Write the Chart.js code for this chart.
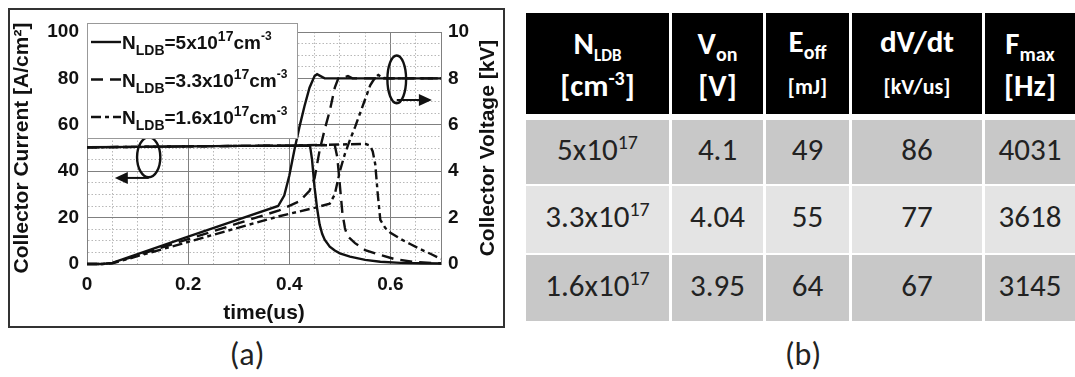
<!DOCTYPE html>
<html>
<head>
<meta charset="utf-8">
<script src="https://cdn.jsdelivr.net/npm/chart.js@4/dist/chart.umd.min.js"></script>
<style>
  html, body { margin: 0; padding: 0; background: #fff; }
  body { width: 1075px; height: 377px; position: relative; overflow: hidden; font-family: Carlito, Calibri, Lato, sans-serif; }
  #frame { position: absolute; left: 8px; top: 8px; width: 493px; height: 316px; border: 2px solid #333; }
  #frame canvas { display: block; }
  .cap { position: absolute; top: 335px; width: 80px; text-align: center; font-size: 32px; line-height: 40px; color: #222; }
  #tbl { position: absolute; left: 526px; top: 13px; border-collapse: separate; border-spacing: 0; }
  #tbl th, #tbl td { padding: 0; text-align: center; border-right: 3px solid #fff; border-bottom: 2px solid #fff; }
  #tbl th:last-child, #tbl td:last-child { border-right: none; }
  #tbl th { background: #000; color: #fff; font-weight: bold; font-size: 31px; line-height: 42px; height: 101px; border-bottom-width: 6px; }
  #tbl td { color: #222; font-size: 31px; padding-bottom: 7px; }
  #tbl tr:last-child td { border-bottom: none; }
  #tbl sub { font-size: 20px; vertical-align: -7px; line-height: 0; }
  #tbl sub.s { font-size: 17px; }
  #tbl sup { font-size: 20px; vertical-align: 11px; line-height: 0; }
  #tbl small { font-size: 22px; }
</style>
</head>
<body>
<div id="frame"><canvas id="chart" width="493" height="316"></canvas></div>
<div class="cap" style="left:207px">(a)</div>
<table id="tbl"></table>
<div class="cap" style="left:763px">(b)</div>
<script>
// ---- chart (a) data : time in us, current in A/cm2, voltage in kV ----
var densities = ['5', '3.3', '1.6'];

var tCurA = [0, 0.10, 0.20, 0.30, 0.40, 0.43, 0.441, 0.445, 0.45, 0.455, 0.46, 0.465, 0.47, 0.48, 0.49, 0.50, 0.52, 0.55, 0.58, 0.62, 0.66, 0.70];
var curA  = [50.3, 50.5, 50.7, 50.9, 51, 51, 51, 45, 33, 24, 17, 13, 10.5, 7.5, 5.8, 4.6, 3.2, 1.8, 1.0, 0.5, 0.3, 0.2];

var tCurB = [0, 0.10, 0.20, 0.30, 0.40, 0.45, 0.49, 0.495, 0.50, 0.505, 0.51, 0.515, 0.52, 0.53, 0.55, 0.58, 0.61, 0.65, 0.70];
var curB  = [50.3, 50.5, 50.7, 50.9, 51, 51.2, 51.2, 46, 34, 22, 15.5, 12, 11, 9, 6, 3.9, 2, 0.8, 0.3];

var tCurC = [0, 0.10, 0.20, 0.30, 0.40, 0.50, 0.55, 0.56, 0.565, 0.57, 0.575, 0.58, 0.59, 0.60, 0.62, 0.64, 0.66, 0.68, 0.70];
var curC  = [50.3, 50.5, 50.7, 50.9, 51, 51.5, 51.8, 51, 48.5, 43, 30, 19, 15.5, 13.5, 10.8, 8.5, 6.3, 4.3, 2.2];

var tVolA = [0, 0.03, 0.05, 0.07, 0.10, 0.20, 0.30, 0.378, 0.39, 0.40, 0.41, 0.42, 0.43, 0.44, 0.45, 0.455, 0.46, 0.47, 0.50, 0.60, 0.70];
var volA  = [0, 0, 0.05, 0.2, 0.43, 1.18, 1.92, 2.5, 2.95, 3.8, 4.9, 5.9, 6.8, 7.6, 8.1, 8.18, 8.12, 8.0, 8.0, 8.0, 8.0];

var tVolB = [0, 0.03, 0.05, 0.07, 0.10, 0.20, 0.30, 0.38, 0.42, 0.44, 0.45, 0.46, 0.47, 0.48, 0.49, 0.497, 0.51, 0.516, 0.525, 0.55, 0.70];
var volB  = [0, 0, 0.04, 0.17, 0.38, 1.07, 1.76, 2.31, 2.7, 3.15, 3.7, 4.9, 5.8, 6.6, 7.6, 8.0, 8.05, 8.1, 8.0, 8.0, 8.0];

var tVolC = [0, 0.03, 0.05, 0.07, 0.10, 0.20, 0.30, 0.38, 0.45, 0.48, 0.49, 0.50, 0.51, 0.52, 0.53, 0.54, 0.55, 0.56, 0.57, 0.576, 0.585, 0.60, 0.70];
var volC  = [0, 0, 0.03, 0.15, 0.34, 0.95, 1.57, 2.06, 2.42, 2.6, 3.0, 4.0, 4.75, 5.35, 5.9, 6.5, 7.1, 7.7, 8.05, 8.15, 8.02, 8.0, 8.0];

var xTickLabels = ['0', '0.2', '0.4', '0.6'];

// ---- table (b) data ----
var headers = ['N<sub class="s">LDB</sub><br>[cm<sup>-3</sup>]', 'V<sub>on</sub><br>[V]', 'E<sub>off</sub><br><small>[mJ]</small>',
               'dV/dt<br><small>[kV/us]</small>', 'F<sub>max</sub><br>[Hz]'];
var vOn  = ['4.1', '4.04', '3.95'];
var eOff = [49, 55, 64];
var dvdt = [86, 77, 67];
var fMax = [4031, 3618, 3145];

// build table
var colW = [143, 91, 83, 130, 90];
var rowH = [64, 67, 66];
var rowBg = ['#c8c8c8', '#e4e4e4', '#c8c8c8'];
var html = '<tr>';
headers.forEach(function(h, i) { html += '<th style="width:' + colW[i] + 'px">' + h + '</th>'; });
html += '</tr>';
for (var r = 0; r < densities.length; r++) {
  var cells = [densities[r] + 'x10<sup>17</sup>', vOn[r], eOff[r], dvdt[r], fMax[r]];
  html += '<tr>';
  cells.forEach(function(c) {
    html += '<td style="height:' + (rowH[r] - 7) + 'px;background:' + rowBg[r] + '">' + c + '</td>';
  });
  html += '</tr>';
}
document.getElementById('tbl').innerHTML = html;

// ---- chart ----
var FONT = '"Liberation Sans", Arial, sans-serif';
Chart.defaults.font.family = FONT;
Chart.defaults.font.weight = 'bold';
Chart.defaults.color = '#111';

var dashB = [12, 7];
var dashC = [10, 4, 4, 4];

function pts(ts, vs) { return ts.map(function(t, i) { return {x: t, y: vs[i]}; }); }
function isMajorX(v) { return Math.abs(v / 0.2 - Math.round(v / 0.2)) < 1e-6 || Math.abs(v - 0.7) < 1e-6; }
function isMajorY(v) { return Math.abs(v / 20 - Math.round(v / 20)) < 1e-6; }

function line(data, axis, dash) {
  return {
    data: data, yAxisID: axis, borderColor: '#111', borderWidth: 2.4, borderDash: dash,
    pointRadius: 0, fill: false, tension: 0, clip: 4
  };
}

// ellipses / arrows marking which curves go to which axis (data coords of left axis)
var leftMark  = {t: 0.122, v: 46, rt: 0.023, rv: 8.6, arrowV: 37.1, arrowTo: 0.055};
var rightMark = {t: 0.6125, v: 79.6, rt: 0.0185, rv: 10.3, arrowV: 70.7, arrowTo: 0.682};

function drawRich(ctx, x, y, parts) {
  parts.forEach(function(p) {
    ctx.font = 'bold ' + p[1] + 'px ' + FONT;
    ctx.fillText(p[0], x, y + p[2]);
    x += ctx.measureText(p[0]).width;
  });
}

var decor = {
  id: 'decor',
  afterDraw: function(chart) {
    var ctx = chart.ctx, xs = chart.scales.x, ys = chart.scales.y, a = chart.chartArea;
    ctx.save();
    ctx.strokeStyle = '#111';
    ctx.fillStyle = '#111';
    ctx.lineWidth = 2.4;
    [[leftMark, -1], [rightMark, 1]].forEach(function(m) {
      var k = m[0];
      var cx = xs.getPixelForValue(k.t), cy = ys.getPixelForValue(k.v);
      var rx = xs.getPixelForValue(k.t + k.rt) - cx, ry = cy - ys.getPixelForValue(k.v + k.rv);
      ctx.beginPath(); ctx.ellipse(cx, cy, rx, ry, 0, 0, Math.PI * 2); ctx.stroke();
      var ay = ys.getPixelForValue(k.arrowV), tip = xs.getPixelForValue(k.arrowTo);
      ctx.lineWidth = 2;
      ctx.beginPath(); ctx.moveTo(cx, ay); ctx.lineTo(tip - m[1] * 10, ay); ctx.stroke();
      ctx.beginPath(); ctx.moveTo(tip, ay); ctx.lineTo(tip - m[1] * 13, ay - 6); ctx.lineTo(tip - m[1] * 13, ay + 6); ctx.closePath(); ctx.fill();
      ctx.lineWidth = 2.4;
    });

    // right axis title, reading bottom to top
    ctx.save();
    ctx.translate(478, (a.top + a.bottom) / 2);
    ctx.rotate(-Math.PI / 2);
    ctx.font = 'bold 21px ' + FONT;
    ctx.textAlign = 'center'; ctx.textBaseline = 'middle';
    ctx.fillText('Collector Voltage [kV]', 0, 0);
    ctx.restore();

    // legend box
    var lx = a.left, ly = a.top - 9, lw = 210, lh = 115;
    ctx.fillStyle = '#fff';
    ctx.fillRect(lx, ly, lw, lh);
    ctx.strokeStyle = '#999'; ctx.lineWidth = 1;
    ctx.strokeRect(lx + 0.5, ly + 0.5, lw, lh);
    var dashes = [[], dashB, dashC];
    ctx.fillStyle = '#111'; ctx.strokeStyle = '#111';
    ctx.textAlign = 'left'; ctx.textBaseline = 'alphabetic';
    densities.forEach(function(d, i) {
      var y = ly + 19 + i * 37.5;
      ctx.lineWidth = 2.4;
      ctx.setLineDash(dashes[i]);
      ctx.beginPath(); ctx.moveTo(lx + 4, y); ctx.lineTo(lx + 34, y); ctx.stroke();
      ctx.setLineDash([]);
      drawRich(ctx, lx + 35, y + 7, [['N', 19, 0], ['LDB', 14, 6], ['=' + d + 'x10', 19, 0], ['17', 14, -8], ['cm', 19, 0], ['-3', 12, -9]]);
    });
    ctx.restore();
  }
};

new Chart(document.getElementById('chart'), {
  type: 'line',
  data: {
    datasets: [
      line(pts(tCurA, curA), 'y', []),
      line(pts(tCurB, curB), 'y', dashB),
      line(pts(tCurC, curC), 'y', dashC),
      line(pts(tVolA, volA), 'y2', []),
      line(pts(tVolB, volB), 'y2', dashB),
      line(pts(tVolC, volC), 'y2', dashC)
    ]
  },
  options: {
    responsive: false,
    animation: false,
    devicePixelRatio: 1,
    layout: { padding: { top: 22, left: 0, right: 0, bottom: 0 } },
    plugins: { legend: { display: false }, tooltip: { enabled: false } },
    scales: {
      x: {
        type: 'linear', min: 0, max: 0.7,
        afterFit: function(s) { s.height = 62; },
        grid: {
          drawTicks: false, lineWidth: 1,
          color: function(c) { return c.tick && isMajorX(c.tick.value) ? '#808080' : '#b8b8b8'; }
        },
        border: { color: '#808080', dash: function(c) { return c.tick && !isMajorX(c.tick.value) ? [1.5, 2] : []; } },
        ticks: {
          stepSize: 0.05, autoSkip: false, maxRotation: 0, padding: 9, maxTicksLimit: 100,
          font: { size: 19, weight: 'bold' },
          callback: function(v) {
            var i = Math.round(v / 0.2);
            return (Math.abs(v / 0.2 - i) < 1e-6 && i < xTickLabels.length) ? xTickLabels[i] : '';
          }
        },
        title: { display: true, text: 'time(us)', font: { size: 21, weight: 'bold' }, padding: { top: 0, bottom: 0 } }
      },
      y: {
        position: 'left', min: 0, max: 100,
        afterFit: function(s) { s.width = 77; },
        grid: {
          drawTicks: false, lineWidth: 1,
          color: function(c) { return c.tick && isMajorY(c.tick.value) ? '#808080' : '#b8b8b8'; }
        },
        border: { color: '#808080', dash: function(c) { return c.tick && !isMajorY(c.tick.value) ? [1.5, 2] : []; } },
        ticks: {
          stepSize: 5, autoSkip: false, padding: 8, maxTicksLimit: 100,
          font: { size: 19, weight: 'bold' },
          callback: function(v) { return isMajorY(v) ? String(v) : ''; }
        },
        title: { display: true, text: 'Collector Current [A/cm²]', font: { size: 21, weight: 'bold' }, padding: { top: 0, bottom: 0 } }
      },
      y2: {
        position: 'right', min: 0, max: 10,
        afterFit: function(s) { s.width = 62; },
        grid: { drawOnChartArea: false, drawTicks: false },
        border: { display: false },
        ticks: { stepSize: 2, padding: 7, font: { size: 19, weight: 'bold' } }
      }
    }
  },
  plugins: [decor]
});
</script>
</body>
</html>
